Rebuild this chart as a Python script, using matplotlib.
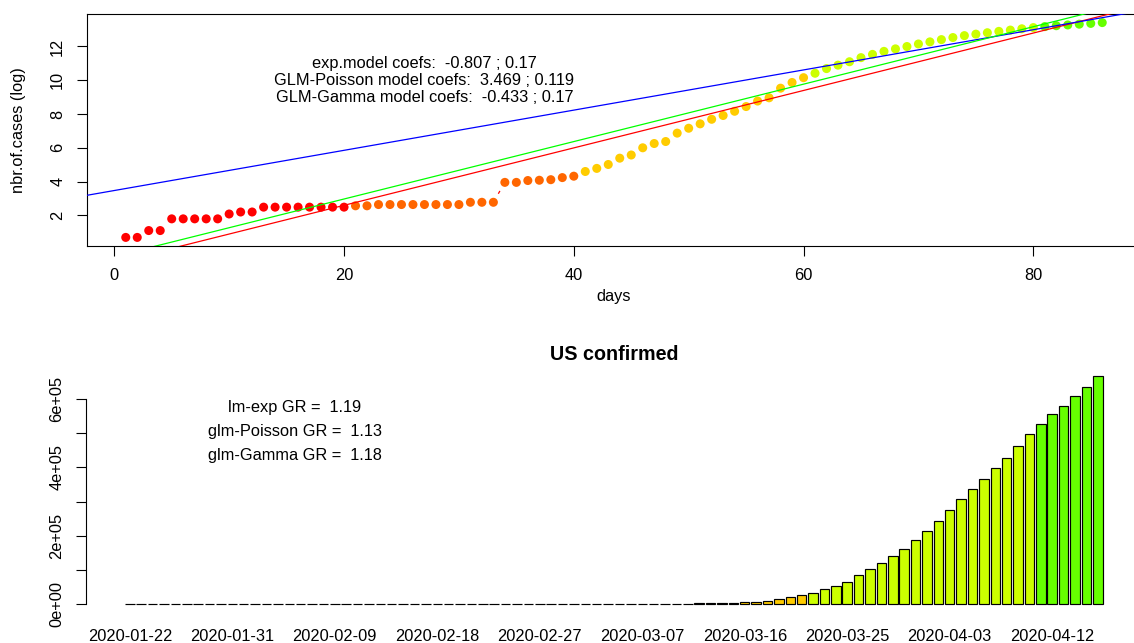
import numpy as np
import pandas as pd
import matplotlib
matplotlib.use("Agg")
import matplotlib.pyplot as plt

plt.rcParams['font.family'] = ['Liberation Sans', 'DejaVu Sans']

# ---------------- data ----------------
confirmed = [1, 1, 2, 2, 5, 5, 5, 5, 5, 7, 8, 8, 11, 11, 11, 11, 11, 11, 11, 11,
             12, 12, 13, 13, 13, 13, 13, 13, 13, 13, 15, 15, 15, 51, 51, 57, 58, 60, 68, 74,
             98, 118, 149, 217, 262, 402, 518, 583, 959, 1281, 1663, 2179, 2727, 3499, 4632,
             6421, 7783, 13747, 19273, 25600, 33276, 43847, 53740, 65778, 83836, 101657,
             121465, 140909, 161831, 188172, 213242, 243622, 275367, 308650, 336802, 366317,
             397121, 428654, 462780, 496535, 526396, 555313, 580619, 607670, 636350, 667592]
start_date = "2020-01-22"
dates = pd.date_range(start_date, periods=len(confirmed), freq="D").strftime("%Y-%m-%d").tolist()
days = np.arange(1, len(confirmed) + 1)
log_cases = np.log(np.array(confirmed) + 1)

palette = ["#FF0000", "#FF6600", "#FFCC00", "#CCFF00", "#66FF00"]   # rainbow(15)[1:5]
group_size = 20

model_names = ["exp.model", "GLM-Poisson model", "GLM-Gamma model"]
intercepts = [-0.807, 3.469, -0.433]
slopes = [0.17, 0.119, 0.17]
line_colors = ["#FF0000", "#0000FF", "#00FF00"]

gr_names = ["lm-exp", "glm-Poisson", "glm-Gamma"]
growth_rates = [1.19, 1.13, 1.18]

title = "US confirmed"

# ---------------- figure ----------------
W, H = 1134, 643
fig = plt.figure(figsize=(W / 100, H / 100), dpi=100)

def px_axes(l, r, t, b):
    return [l / W, 1 - b / H, (r - l) / W, (b - t) / H]

point_colors = [palette[min((d - 1) // group_size, len(palette) - 1)] for d in days]

# ---- top panel ----
ax1 = fig.add_axes(px_axes(86.7, 1141.3, 14, 246))
xr = days.max() - days.min()
yr = log_cases.max() - log_cases.min()
ax1.set_xlim(days.min() - 0.04 * xr, days.max() + 0.04 * xr)
ax1.set_ylim(log_cases.min() - 0.04 * yr, log_cases.max() + 0.04 * yr)

ax1.scatter(days, log_cases, c=point_colors, s=6.5 ** 2, marker='o', linewidths=0, zorder=2)

# type="b" style connecting segments with gaps around points
disp = ax1.transData.transform(np.column_stack([days, log_cases]))
gap = 10.5
inv = ax1.transData.inverted()
for p0, p1 in zip(disp[:-1], disp[1:]):
    d = p1 - p0
    L = np.hypot(*d)
    if L > 2 * gap:
        u = d / L
        a = inv.transform(p0 + u * gap)
        b = inv.transform(p1 - u * gap)
        ax1.plot([a[0], b[0]], [a[1], b[1]], color=palette[0], lw=0.9, zorder=2)

xx = np.array(ax1.get_xlim())
for a, s, c in zip(intercepts, slopes, line_colors):
    ax1.plot(xx, a + s * xx, color=c, lw=0.9, zorder=3)
ax1.set_xlim(xx)

for i, (n, a, s) in enumerate(zip(model_names, intercepts, slopes)):
    ax1.text(27, 11 - i, f"{n} coefs:  {a:g} ; {s:g}", ha='center', va='center',
             fontsize=11.8, zorder=4)

ax1.set_xticks([0, 20, 40, 60, 80])
ax1.set_yticks([2, 4, 6, 8, 10, 12])
ax1.tick_params(direction='out', length=7.5, width=0.8, labelsize=11.8, pad=8)
plt.setp(ax1.get_yticklabels(), rotation=90, va='center')
for sp in ax1.spines.values():
    sp.set_linewidth(0.8)
fig.text(614 / W, 1 - 297 / H, "days", ha='center', va='center', fontsize=11.8)
fig.text(19 / W, 1 - 130 / H, "nbr.of.cases (log)", ha='center', va='center',
         rotation=90, fontsize=11.8)

# ---- bottom panel ----
ax2 = fig.add_axes(px_axes(86, 1141.6, 366.7, 615.5))
centers = 0.7 + 1.2 * (days - 1)
ax2.bar(centers, confirmed, width=1.0, color=point_colors, edgecolor='black', linewidth=0.85)
x_lo, x_hi = 0.2, centers[-1] + 0.5
ax2.set_xlim(x_lo - 0.04 * (x_hi - x_lo), x_hi + 0.04 * (x_hi - x_lo))
ymax = max(confirmed)
ylo = -0.01 * ymax
ax2.set_ylim(ylo - 0.04 * (ymax - ylo), ymax + 0.04 * (ymax - ylo))

for sp in ['top', 'right', 'bottom']:
    ax2.spines[sp].set_visible(False)
yt = np.arange(0, 6.01e5, 1e5)
ax2.set_yticks(yt)
ax2.set_yticklabels([f"{int(v/1e5)}e+05" if v > 0 and int(v / 1e5) % 2 == 0 else
                     ("0e+00" if v == 0 else "") for v in yt])
ax2.spines['left'].set_bounds(0, 6e5)
ax2.spines['left'].set_linewidth(0.8)
ax2.tick_params(axis='y', direction='out', length=7.5, width=0.8, labelsize=11.8, pad=8)
plt.setp(ax2.get_yticklabels(), rotation=90, va='center')

lab_idx = np.arange(0, len(dates), 9)
ax2.set_xticks(centers[lab_idx])
ax2.set_xticklabels([dates[i] for i in lab_idx])
ax2.tick_params(axis='x', length=0, labelsize=11.8, pad=9.5)

for i, (n, g) in enumerate(zip(gr_names, growth_rates)):
    ax2.text(18.1, [5.74e5, 5.06e5, 4.36e5][i], f"{n} GR =  {g:.2f}", ha='center', va='center',
             fontsize=11.8)

fig.text(614 / W, 1 - 354 / H, title, ha='center', va='center', fontsize=14.2,
         fontweight='bold')

fig.savefig("out.png", dpi=100)
